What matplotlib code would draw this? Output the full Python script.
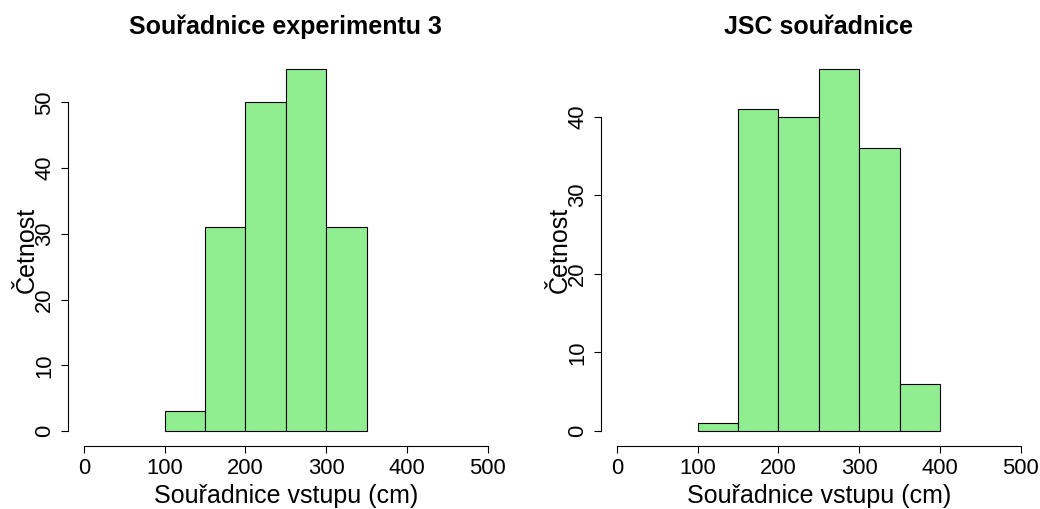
import matplotlib
matplotlib.use('Agg')
from matplotlib import pyplot as plt
import numpy as np

plt.rcParams['font.family'] = ['Liberation Sans', 'DejaVu Sans']

# Histogram bins (cm) and counts
edges_exp3 = [100, 150, 200, 250, 300, 350]
counts_exp3 = [3, 31, 50, 55, 31]
edges_jsc = [100, 150, 200, 250, 300, 350, 400]
counts_jsc = [1, 41, 40, 46, 36, 6]

titles = ['Souřadnice experimentu 3', 'JSC souřadnice']
xlabel = 'Souřadnice vstupu (cm)'
ylabel = 'Četnost'
xticks = [0, 100, 200, 300, 400, 500]
yticks_exp3 = [0, 10, 20, 30, 40, 50]
yticks_jsc = [0, 10, 20, 30, 40]

W, H = 1040, 509
fig = plt.figure(figsize=(W / 100, H / 100), dpi=100)


def draw(left_px, edges, counts, yticks, title):
    # plot region in pixels, R style with 4% padding of the ranges
    width_px = 436.0
    bottom_px, top_px = 63.5, 454.0
    ax = fig.add_axes([left_px / W, bottom_px / H, width_px / W, (top_px - bottom_px) / H])
    edges = np.array(edges)
    ax.bar(edges[:-1], counts, width=np.diff(edges), align='edge',
           color='#90EE90', edgecolor='black', linewidth=0.8)
    ax.set_xlim(-20, 520)
    ymax = max(counts)
    ax.set_ylim(-0.04 * ymax, 1.04 * ymax)

    for s in ('top', 'right'):
        ax.spines[s].set_visible(False)
    ax.spines['left'].set_bounds(yticks[0], yticks[-1])
    ax.spines['bottom'].set_bounds(xticks[0], xticks[-1])
    for s in ('left', 'bottom'):
        ax.spines[s].set_linewidth(0.8)

    ax.set_xticks(xticks)
    ax.set_yticks(yticks)
    ax.tick_params(direction='out', length=5, width=0.8, labelsize=15.8, pad=4)
    for lbl in ax.get_yticklabels():
        lbl.set_rotation(90)
        lbl.set_va('center')

    ax.set_xlabel(xlabel, fontsize=18)
    ax.xaxis.label.set_va('baseline')
    ax.xaxis.set_label_coords(0.5, -(503 - 445.5) / (top_px - bottom_px) - (63.5 - bottom_px) / (top_px - bottom_px))
    ax.set_ylabel(ylabel, fontsize=18)
    ax.yaxis.label.set_va('baseline')
    ax.yaxis.set_label_coords(-34.0 / width_px, 0.5)

    ax.set_title(title, fontsize=18, fontweight='bold', pad=0,
                 y=1 + (475 - top_px) / (top_px - bottom_px))
    return ax


draw(67.85, edges_exp3, counts_exp3, yticks_exp3, titles[0])
draw(600.8, edges_jsc, counts_jsc, yticks_jsc, titles[1])

fig.savefig('out.png', dpi=100)
